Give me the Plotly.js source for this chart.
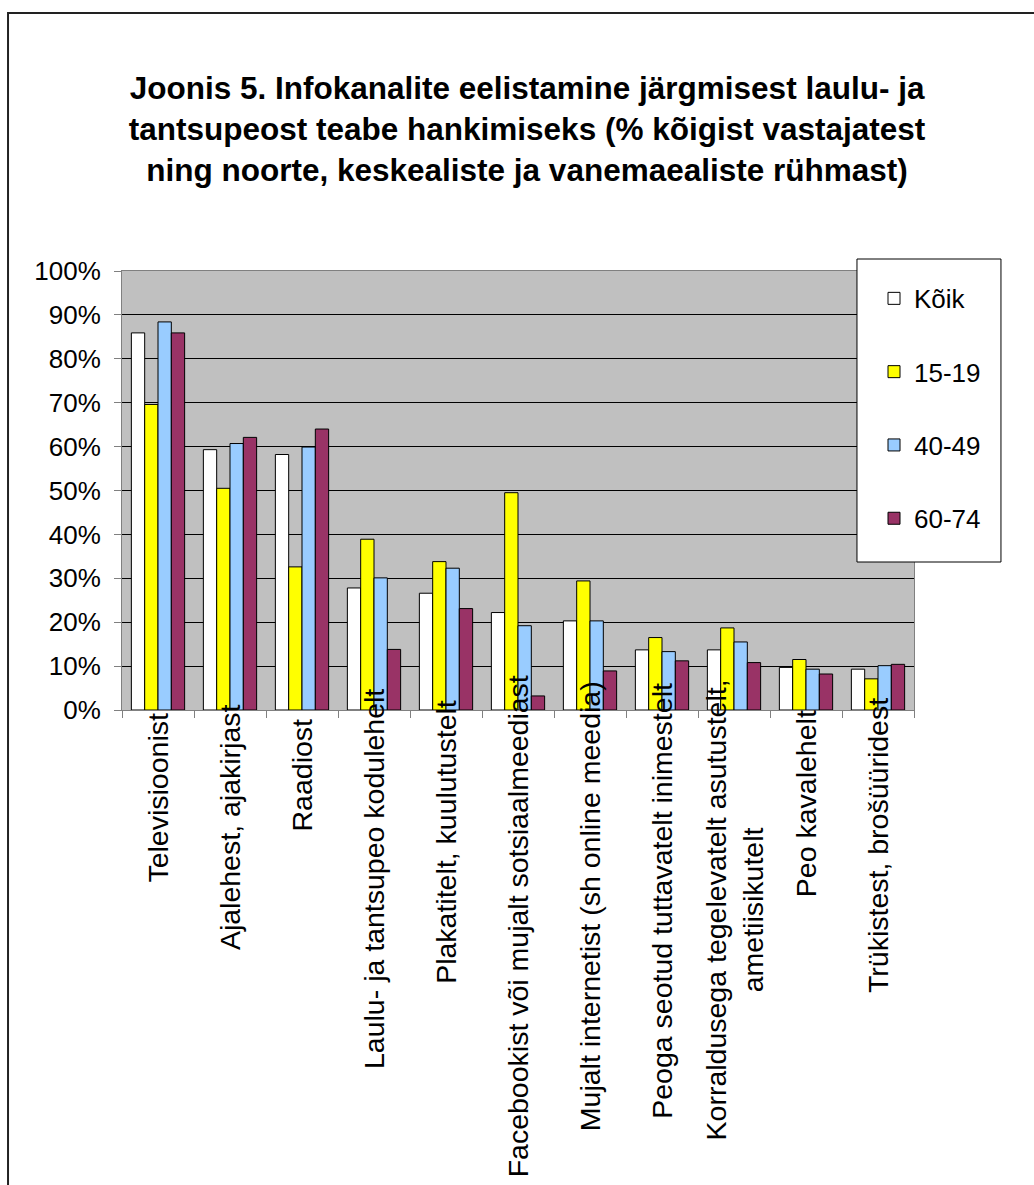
<!DOCTYPE html>
<html>
<head>
<meta charset="utf-8">
<script src="https://cdn.plot.ly/plotly-3.0.1.min.js"></script>
<style>html,body{margin:0;padding:0;background:#fff;}</style>
</head>
<body>
<div id="chart" style="width:1034px;height:1185px;"></div>
<script>
var categories = [
  "Televisioonist",
  "Ajalehest, ajakirjast",
  "Raadiost",
  "Laulu- ja tantsupeo kodulehelt",
  "Plakatitelt, kuulutustelt",
  "Facebookist või mujalt sotsiaalmeediast",
  "Mujalt internetist (sh online meedia)",
  "Peoga seotud tuttavatelt inimestelt",
  "Korraldusega tegelevatelt asutustelt,<br>ametiisikutelt",
  "Peo kavalehelt",
  "Trükistest, brošüüridest"
];
var seriesNames = ["Kõik", "15-19", "40-49", "60-74"];
var koik   = [85.9, 59.3, 58.2, 27.8, 26.6, 22.2, 20.3, 13.7, 13.7, 9.7, 9.3];
var age1519 = [69.6, 50.5, 32.6, 38.9, 33.8, 49.5, 29.4, 16.5, 18.7, 11.5, 7.1];
var age4049 = [88.4, 60.7, 59.9, 30.1, 32.3, 19.2, 20.3, 13.3, 15.5, 9.3, 10.1];
var age6074 = [85.9, 62.1, 64.0, 13.8, 23.1, 3.2, 8.9, 11.2, 10.8, 8.2, 10.4];
var yTickVals = [0, 10, 20, 30, 40, 50, 60, 70, 80, 90, 100];

var FONT = '"Liberation Sans", Arial, sans-serif';
var colors = ["#ffffff", "#ffff00", "#99ccff", "#993366"];
var values = [koik, age1519, age4049, age6074];

var traces = values.map(function (v, i) {
  return {
    type: 'bar',
    name: seriesNames[i],
    x: categories,
    y: v,
    legendgroup: 'g' + i,
    marker: {color: colors[i], line: {color: '#000000', width: 1}},
    hoverinfo: 'x+y+name'
  };
});

// x labels as rotated annotations (mimics the original's label placement)
var ctx = document.createElement('canvas').getContext('2d');
var labelSize = 28.5;
ctx.font = labelSize + 'px "Liberation Sans", Arial, sans-serif';
var annotations = categories.map(function (c) {
  var lines = c.split('<br>');
  var L = Math.max.apply(null, lines.map(function (s) { return ctx.measureText(s).width; }));
  return {
    x: c, xref: 'x', y: 0, yref: 'y',
    text: c, textangle: -90, showarrow: false,
    xanchor: 'center', yanchor: 'top',
    yshift: 0.112 * L - 19.6,
    font: {family: FONT, size: labelSize, color: '#000000'}
  };
});

var layout = {
  width: 1034, height: 1185,
  margin: {l: 122, r: 120, t: 271, b: 475, pad: 0},
  paper_bgcolor: '#ffffff',
  plot_bgcolor: '#c0c0c0',
  font: {family: FONT, color: '#000000'},
  title: {
    text: 'Joonis 5. Infokanalite eelistamine järgmisest laulu- ja<br>tantsupeost teabe hankimiseks (% kõigist vastajatest<br>ning noorte, keskealiste ja vanemaealiste rühmast)',
    font: {family: FONT, size: 31.5, color: '#000000', weight: 'bold'},
    x: 0.5097, xanchor: 'center', xref: 'container',
    y: 0.9165, yanchor: 'top', yref: 'container'
  },
  barmode: 'group',
  bargap: 0.26,
  bargroupgap: 0,
  showlegend: true,
  legend: {
    x: 0.9495, y: 0.991, xanchor: 'left', yanchor: 'top',
    xref: 'paper', yref: 'paper',
    bgcolor: 'rgba(0,0,0,0)', borderwidth: 0,
    font: {family: FONT, size: 26, color: '#000000'},
    tracegroupgap: 36.5,
    traceorder: 'grouped'
  },
  xaxis: {
    type: 'category',
    showticklabels: false,
    ticks: 'outside', ticklen: 7, tickcolor: '#808080', tickwidth: 1,
    tickson: 'boundaries',
    showline: true, linecolor: '#808080', linewidth: 1, mirror: true,
    showgrid: false, zeroline: false,
    fixedrange: true
  },
  yaxis: {
    range: [0, 100],
    tickvals: yTickVals,
    ticktext: yTickVals.map(function (v) { return v + '%'; }),
    ticks: 'outside', ticklen: 7, tickcolor: '#808080', tickwidth: 1,
    ticklabelstandoff: 8,
    tickfont: {family: FONT, size: 26, color: '#000000'},
    showline: true, linecolor: '#808080', linewidth: 1, mirror: true,
    showgrid: true, gridcolor: '#000000', gridwidth: 1,
    zeroline: false,
    fixedrange: true
  },
  annotations: annotations,
  shapes: [
    {type: 'rect', xref: 'paper', yref: 'paper', x0: -0.1439, x1: 1.1667, y0: -1.116, y1: 1.5877,
     line: {color: '#222222', width: 2}, fillcolor: 'rgba(0,0,0,0)', layer: 'below'},
    {type: 'rect', xref: 'paper', yref: 'paper', x0: 0.928, x1: 1.1098, y0: 0.3371, y1: 1.0273,
     line: {color: '#000000', width: 1}, fillcolor: '#ffffff', layer: 'above'}
  ]
};

Plotly.newPlot('chart', traces, layout, {displayModeBar: false, staticPlot: true});
</script>
</body>
</html>
